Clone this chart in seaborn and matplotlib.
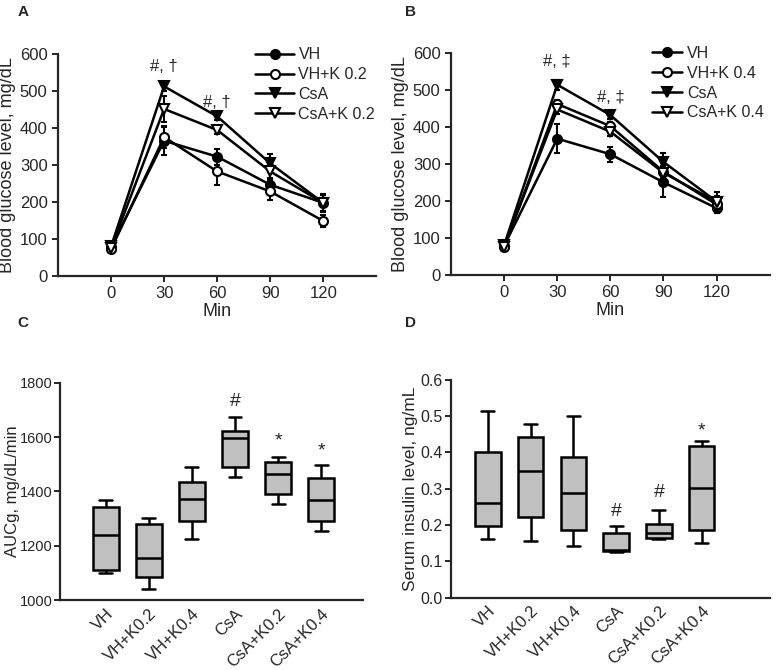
import numpy as np
import pandas as pd
import seaborn as sns
import matplotlib
matplotlib.use('Agg')
from matplotlib import pyplot as plt

# time points (min)
minutes = [0, 30, 60, 90, 120]

# Panel A: glucose means and SEM
a_labels = ['VH', 'VH+K 0.2', 'CsA', 'CsA+K 0.2']
a_vh = [78, 366, 323, 247, 198]
a_vh_err = [4, 38, 22, 18, 12]
a_vhk = [73, 376, 283, 229, 149]
a_vhk_err = [4, 30, 38, 22, 15]
a_csa = [80, 513, 432, 305, 198]
a_csa_err = [4, 13, 10, 24, 22]
a_csak = [76, 452, 395, 283, 198]
a_csak_err = [4, 35, 10, 22, 25]

# Panel B: glucose means and SEM
b_labels = ['VH', 'VH+K 0.4', 'CsA', 'CsA+K 0.4']
b_vh = [78, 368, 326, 250, 180]
b_vh_err = [4, 40, 20, 40, 12]
b_vhk = [74, 462, 402, 279, 190]
b_vhk_err = [4, 10, 12, 15, 15]
b_csa = [80, 514, 432, 305, 198]
b_csa_err = [4, 13, 10, 24, 25]
b_csak = [76, 447, 387, 276, 197]
b_csak_err = [4, 12, 12, 15, 15]

# Panels C/D groups
groups = ['VH', 'VH+K0.2', 'VH+K0.4', 'CsA', 'CsA+K0.2', 'CsA+K0.4']

# five-number summaries [min, q1, median, q3, max]
auc_vh = [1100, 1110, 1240, 1343, 1370]
auc_vhk2 = [1043, 1086, 1157, 1280, 1303]
auc_vhk4 = [1225, 1291, 1372, 1433, 1491]
auc_csa = [1454, 1491, 1598, 1623, 1675]
auc_csak2 = [1353, 1390, 1464, 1508, 1526]
auc_csak4 = [1253, 1290, 1369, 1450, 1497]

ins_vh = [0.161, 0.198, 0.261, 0.401, 0.515]
ins_vhk2 = [0.156, 0.221, 0.348, 0.443, 0.479]
ins_vhk4 = [0.143, 0.187, 0.288, 0.387, 0.500]
ins_csa = [0.126, 0.129, 0.130, 0.178, 0.198]
ins_csak2 = [0.161, 0.164, 0.177, 0.202, 0.241]
ins_csak4 = [0.150, 0.187, 0.302, 0.419, 0.432]

auc_marks = {'CsA': ('#', 1729), 'CsA+K0.2': ('*', 1585), 'CsA+K0.4': ('*', 1548)}
ins_marks = {'CsA': ('#', 0.237), 'CsA+K0.2': ('#', 0.290), 'CsA+K0.4': ('*', 0.458)}

sns.set_style('ticks')
plt.rcParams['font.family'] = ['Liberation Sans', 'DejaVu Sans']
plt.rcParams['font.size'] = 12
plt.rcParams['axes.linewidth'] = 1.6
plt.rcParams['xtick.major.width'] = 1.4
plt.rcParams['ytick.major.width'] = 1.4
plt.rcParams['xtick.major.size'] = 4
plt.rcParams['ytick.major.size'] = 4

fig = plt.figure(figsize=(7.79, 6.70), dpi=100)
ax_a = fig.add_axes([0.0745, 0.588, 0.4085, 0.331])
ax_b = fig.add_axes([0.579, 0.590, 0.409, 0.331])
ax_c = fig.add_axes([0.077, 0.104, 0.389, 0.325])
ax_d = fig.add_axes([0.579, 0.108, 0.409, 0.325])

markers = ['o', 'o', 'v', 'v']
faces = ['black', 'white', 'black', 'white']


def glucose_panel(ax, labels, series, errs, marks, leg_x, handle_len):
    for lab, vals, err, mk, fc in zip(labels, series, errs, markers, faces):
        ax.errorbar(minutes, vals, yerr=err, fmt='none', ecolor='black',
                    elinewidth=1.5, capsize=2.5, capthick=1.5, zorder=2)
        sns.lineplot(x=minutes, y=vals, ax=ax, color='black', linewidth=1.8,
                     marker=mk, markersize=6.5, markerfacecolor=fc,
                     markeredgecolor='black', markeredgewidth=1.5,
                     label=lab, zorder=3)
    ax.set_xlim(-30, 150)
    ax.set_ylim(0, 600)
    ax.set_xticks(minutes)
    ax.set_yticks(range(0, 601, 100))
    ax.set_xlabel('Min', fontsize=13, labelpad=1)
    ax.set_ylabel('Blood glucose level, mg/dL', fontsize=13, labelpad=3)
    ax.tick_params(labelsize=12)
    for x, (txt, y) in marks.items():
        ax.text(x, y, txt, ha='center', va='center', fontsize=12)
    sns.despine(ax=ax)
    ax.legend(frameon=False, loc='upper left', bbox_to_anchor=(leg_x, 1.06),
              borderaxespad=0, handlelength=handle_len, fontsize=11.5,
              labelspacing=0.3, handletextpad=0.3)


glucose_panel(ax_a, a_labels, [a_vh, a_vhk, a_csa, a_csak],
              [a_vh_err, a_vhk_err, a_csa_err, a_csak_err],
              {30: ('#, \u2020', 568), 60: ('#, \u2020', 470)}, 0.6, 2.4)
glucose_panel(ax_b, b_labels, [b_vh, b_vhk, b_csa, b_csak],
              [b_vh_err, b_vhk_err, b_csa_err, b_csak_err],
              {30: ('#, \u2021', 578), 60: ('#, \u2021', 480)}, 0.61, 1.9)


def box_panel(ax, summaries, marks, ylabel):
    df = pd.DataFrame({
        'group': np.repeat(groups, 5),
        'value': np.concatenate(summaries),
    })
    sns.boxplot(data=df, x='group', y='value', order=groups, ax=ax,
                whis=(0, 100), width=0.6, color='#c0c0c0', saturation=1,
                linewidth=1.8, linecolor='black')
    for g, (txt, y) in marks.items():
        ax.text(groups.index(g), y, txt, ha='center', va='center', fontsize=14)
    ax.set_xlabel('')
    ax.set_ylabel(ylabel, fontsize=12.5, labelpad=2)
    ax.tick_params(axis='x', length=0, labelsize=12, pad=4)
    ax.tick_params(axis='y', labelsize=11.5, pad=2)
    plt.setp(ax.get_xticklabels(), rotation=45, ha='right',
             rotation_mode='anchor')
    sns.despine(ax=ax)


box_panel(ax_c, [auc_vh, auc_vhk2, auc_vhk4, auc_csa, auc_csak2, auc_csak4],
          auc_marks, 'AUCg, mg/dL/min')
ax_c.set_ylim(1000, 1800)
ax_c.set_yticks(range(1000, 1801, 200))
ax_c.set_xlim(-1.06, 5.97)
ax_c.tick_params(axis='y', labelsize=10.5, pad=1.5)
ax_c.set_ylabel('AUCg, mg/dL/min', fontsize=12)
ax_c.yaxis.set_label_coords(-0.133, 0.5)

box_panel(ax_d, [ins_vh, ins_vhk2, ins_vhk4, ins_csa, ins_csak2, ins_csak4],
          ins_marks, 'Serum insulin level, ng/mL')
ax_d.set_ylim(0, 0.6)
ax_d.set_yticks(np.arange(0, 0.61, 0.1))
ax_d.yaxis.set_major_formatter(matplotlib.ticker.FormatStrFormatter('%.1f'))
ax_d.set_xlim(-0.86, 6.59)

for x, y, letter in [(18, 12, 'A'), (405, 12, 'B'), (17, 323, 'C'), (405, 323, 'D')]:
    fig.text(x / 779, 1 - y / 670, letter, fontsize=11, fontweight='bold',
             ha='left', va='center')

fig.savefig('out.png', dpi=100)
